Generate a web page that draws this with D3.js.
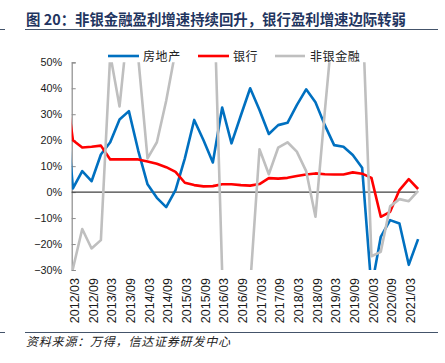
<!DOCTYPE html>
<html>
<head>
<meta charset="utf-8">
<script src="https://cdn.jsdelivr.net/npm/d3@7"></script>
<style>
  body { margin: 0; background: #fff; }
  svg { display: block; }
  .num { font-family: "Liberation Sans", Arial, sans-serif; fill: #1a1a1a; }
  .cjk { font-family: "Noto Sans CJK SC", sans-serif; }
</style>
</head>
<body>
<svg width="445" height="363"></svg>
<script>
// kwartalen (2011/12 valt net buiten de as, alleen het begin van de lijn is zichtbaar)
const quarters = [
  "2011/12",
  "2012/03", "2012/06", "2012/09", "2012/12",
  "2013/03", "2013/06", "2013/09", "2013/12",
  "2014/03", "2014/06", "2014/09", "2014/12",
  "2015/03", "2015/06", "2015/09", "2015/12",
  "2016/03", "2016/06", "2016/09", "2016/12",
  "2017/03", "2017/06", "2017/09", "2017/12",
  "2018/03", "2018/06", "2018/09", "2018/12",
  "2019/03", "2019/06", "2019/09", "2019/12",
  "2020/03", "2020/06", "2020/09", "2020/12",
  "2021/03", "2021/06"
]

const tickLabels = [
  "2012/03", "2012/09", "2013/03", "2013/09", "2014/03", "2014/09",
  "2015/03", "2015/09", "2016/03", "2016/09", "2017/03", "2017/09",
  "2018/03", "2018/09", "2019/03", "2019/09", "2020/03", "2020/09", "2021/03"
]

// 房地产
const realEstate = [
  45,
  1.4, 8.1, 4.2, 14.5,
  19.2, 28.0, 31.2, 16.0,
  3.0, -2.2, -5.8, 0.8,
  13.0, 27.8, 20.0, 11.4,
  32.6, 18.8, 29.5, 40.0,
  31.6, 22.4, 25.8, 26.7,
  33.5, 39.6, 34.6, 25.8,
  18.1, 17.5, 14.3, 9.4,
  -37.0, -17.2, -10.8, -12.1,
  -28.0, -18.1
]

// 银行
const banks = [
  47,
  20.0, 17.2, 17.5, 17.9,
  12.6, 12.6, 12.6, 12.6,
  11.8, 10.9, 9.6, 7.8,
  3.6, 2.7, 2.2, 2.3,
  3.0, 3.0, 2.7, 2.5,
  3.1, 5.4, 5.2, 5.5,
  6.2, 6.8, 7.2, 6.9,
  6.8, 6.8, 7.6, 7.1,
  5.5, -9.5, -7.6, 0.8,
  5.0, 1.2
]

// 非银金融
const nonBank = [
  -40,
  -29.5, -14.2, -21.7, -18.5,
  53.0, 33.0, 68.0, 52.0,
  13.0, 19.2, 35.2, 54.5,
  85.0, 100.0, 95.0, 90.5,
  -31.0, -45.0, -40.0, -36.0,
  16.5, 6.9, 17.1, 19.2,
  15.6, 8.1, -9.5, 31.0,
  70.0, 90.0, 85.0, 73.0,
  -24.7, -23.0, -5.5, -2.7,
  -3.5, 0.5
]

const yTicks = [50, 40, 30, 20, 10, 0, -10, -20, -30]

const series = [
  { name: "房地产", values: realEstate, color: "#0070C0" },
  { name: "银行", values: banks, color: "#FF0000" },
  { name: "非银金融", values: nonBank, color: "#BFBFBF" }
]

const svg = d3.select("svg")

const plot = { left: 71.7, right: 418.1, top: 62.3, bottom: 270 }
const step = 9.33

// x: eerste kwartaal (2011/12) ligt een stap links van 2012/03
const xScale = d3.scalePoint()
  .domain(quarters)
  .range([plot.left + 1.2 - step, plot.right])

const yScale = d3.scaleLinear()
  .domain([-30, 50])
  .range([plot.bottom, plot.top])

// titel
svg.append("text")
  .attr("class", "cjk")
  .attr("x", 26)
  .attr("y", 25)
  .attr("font-size", 14.4)
  .attr("font-weight", "bold")
  .attr("fill", "#1f3560")
  .text("图 20：非银金融盈利增速持续回升，银行盈利增速边际转弱")

svg.append("line")
  .attr("x1", 25).attr("x2", 438)
  .attr("y1", 29.5).attr("y2", 29.5)
  .attr("stroke", "#44546a")
  .attr("stroke-width", 1)
svg.append("line")
  .attr("x1", 0).attr("x2", 5)
  .attr("y1", 29.5).attr("y2", 29.5)
  .attr("stroke", "#44546a")

// y-as
const yAxis = d3.axisLeft(yScale)
  .tickValues(yTicks)
  .tickSize(-4)
  .tickPadding(10)
  .tickFormat(d => (d < 0 ? "\u2212" + Math.abs(d) : d) + "%")

const gy = svg.append("g")
  .attr("transform", `translate(${plot.left},0)`)
  .call(yAxis)
gy.select(".domain").attr("stroke", "#8c8c8c").attr("stroke-width", 1.2)
gy.selectAll(".tick line").attr("stroke", "#8c8c8c")
gy.selectAll(".tick text")
  .attr("class", "num")
  .attr("font-size", 10.8)
  .attr("x", -9.5)

// x-as labels (verticaal)
const xAxis = d3.axisBottom(xScale)
  .tickValues(tickLabels)
  .tickSize(0)

const gx = svg.append("g")
  .attr("transform", `translate(0,${plot.bottom})`)
  .call(xAxis)
gx.select(".domain").remove()
gx.selectAll(".tick text")
  .attr("class", "num")
  .attr("font-size", 12.5)
  .attr("transform", "rotate(-90)")
  .attr("text-anchor", "end")
  .attr("x", -8)
  .attr("y", 0)
  .attr("dy", "0.46em")

// nullijn
svg.append("line")
  .attr("x1", plot.left).attr("x2", plot.right)
  .attr("y1", yScale(0)).attr("y2", yScale(0))
  .attr("stroke", "#404040")
  .attr("stroke-width", 1.2)

// lijnen, geknipt op het plotgebied
svg.append("clipPath")
  .attr("id", "plotClip")
  .append("rect")
  .attr("x", plot.left)
  .attr("y", plot.top)
  .attr("width", plot.right - plot.left + 3)
  .attr("height", plot.bottom - plot.top)

const line = d3.line()
  .x((d, i) => xScale(quarters[i]))
  .y(d => yScale(d))

const lines = svg.append("g").attr("clip-path", "url(#plotClip)")

series.forEach(s => {
  lines.append("path")
    .datum(s.values)
    .attr("d", line)
    .attr("fill", "none")
    .attr("stroke", s.color)
    .attr("stroke-width", 2.6)
    .attr("stroke-linejoin", "round")
})

// legenda
const legendItems = [
  { x1: 108, x2: 139, tx: 143 },
  { x1: 198, x2: 229, tx: 233 },
  { x1: 275, x2: 305, tx: 310 }
]

const legend = svg.append("g")
legend.selectAll("line")
  .data(series)
  .enter()
  .append("line")
  .attr("x1", (d, i) => legendItems[i].x1)
  .attr("x2", (d, i) => legendItems[i].x2)
  .attr("y1", 56).attr("y2", 56)
  .attr("stroke", d => d.color)
  .attr("stroke-width", 2.6)

legend.selectAll("text")
  .data(series)
  .enter()
  .append("text")
  .attr("class", "cjk")
  .attr("x", (d, i) => legendItems[i].tx)
  .attr("y", 60.5)
  .attr("font-size", 12)
  .attr("letter-spacing", 0.6)
  .attr("fill", "#222")
  .text(d => d.name)

// bron
svg.append("line")
  .attr("x1", 25).attr("x2", 438)
  .attr("y1", 332.5).attr("y2", 332.5)
  .attr("stroke", "#44546a")
svg.append("line")
  .attr("x1", 0).attr("x2", 5)
  .attr("y1", 332.5).attr("y2", 332.5)
  .attr("stroke", "#44546a")

svg.append("text")
  .attr("class", "cjk")
  .attr("x", 26)
  .attr("y", 346)
  .attr("font-size", 12)
  .attr("font-style", "italic")
  .attr("letter-spacing", 0.8)
  .attr("fill", "#222")
  .text("资料来源：万得，信达证券研发中心")
</script>
</body>
</html>
